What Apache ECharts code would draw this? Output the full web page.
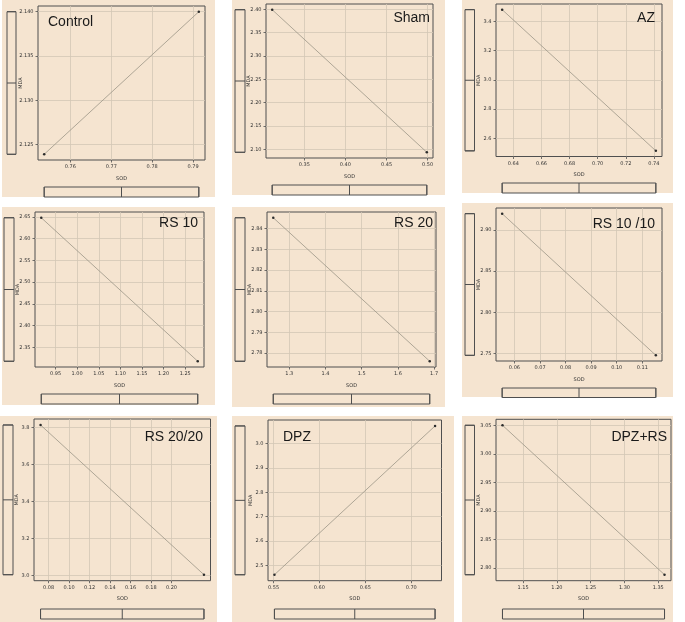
<!DOCTYPE html>
<html><head><meta charset="utf-8">
<script src="https://cdn.jsdelivr.net/npm/echarts@6/dist/echarts.min.js"></script>
<style>html,body{margin:0;padding:0;background:#fff}#c{width:685px;height:622px}</style>
</head><body><div id="c"></div>
<script>
// ---- data ----
const panelNames = ['Control', 'Sham', 'AZ', 'RS 10', 'RS 20', 'RS 10 /10', 'RS 20/20', 'DPZ', 'DPZ+RS'];
const sodValues = [
  [0.7536, 0.7914], [0.311, 0.499], [0.632, 0.7414],
  [0.917, 1.279], [1.256, 1.688], [0.0552, 0.1153],
  [0.0722, 0.2317], [0.551, 0.726], [1.1194, 1.3593]
];
const mdaValues = [
  [2.1239, 2.140], [2.399, 2.094], [3.48, 2.515],
  [2.648, 2.318], [2.8453, 2.776], [2.920, 2.7476],
  [3.814, 3.003], [2.462, 3.072], [3.05, 2.788]
];
const sodTickLabels = [
  ['0.76', '0.77', '0.78', '0.79'],
  ['0.35', '0.40', '0.45', '0.50'],
  ['0.64', '0.66', '0.68', '0.70', '0.72', '0.74'],
  ['0.95', '1.00', '1.05', '1.10', '1.15', '1.20', '1.25'],
  ['1.3', '1.4', '1.5', '1.6', '1.7'],
  ['0.06', '0.07', '0.08', '0.09', '0.10', '0.11'],
  ['0.08', '0.10', '0.12', '0.14', '0.16', '0.18', '0.20'],
  ['0.55', '0.60', '0.65', '0.70'],
  ['1.15', '1.20', '1.25', '1.30', '1.35']
];
const mdaTickLabels = [
  ['2.125', '2.130', '2.135', '2.140'],
  ['2.10', '2.15', '2.20', '2.25', '2.30', '2.35', '2.40'],
  ['2.6', '2.8', '3.0', '3.2', '3.4'],
  ['2.35', '2.40', '2.45', '2.50', '2.55', '2.60', '2.65'],
  ['2.78', '2.79', '2.80', '2.81', '2.82', '2.83', '2.84'],
  ['2.75', '2.80', '2.85', '2.90'],
  ['3.0', '3.2', '3.4', '3.6', '3.8'],
  ['2.5', '2.6', '2.7', '2.8', '2.9', '3.0'],
  ['2.80', '2.85', '2.90', '2.95', '3.00', '3.05']
];
const xAxisTitle = 'SOD';
const yAxisTitle = 'MDA';

// ---- layout (positions / sizes only) ----
const layout = [
  {bg: [2, 0, 213, 197],   main: [38, 6, 167, 154],    lbox: [7, 9],     bbox: [187, 10], lab: [48, 22.5, 'left']},
  {bg: [232, 0, 213, 195], main: [266, 4, 167, 154],   lbox: [235, 10],  bbox: [185, 10], lab: [430, 18.5, 'right']},
  {bg: [462, 0, 211, 193], main: [496, 4, 166, 152.5], lbox: [465, 9.5], bbox: [183, 10], lab: [655, 18.5, 'right']},
  {bg: [2, 207, 213, 198], main: [35, 212, 169, 155],  lbox: [4, 10],    bbox: [394, 10], lab: [198, 223.5, 'right']},
  {bg: [232, 207, 213, 200], main: [267, 212, 169, 155], lbox: [235, 10], bbox: [394, 10], lab: [433, 223.5, 'right']},
  {bg: [462, 203, 211, 194], main: [496, 208, 166, 153], lbox: [465, 9.5], bbox: [388, 9.5], lab: [655, 224.5, 'right']},
  {bg: [0, 416, 217, 206], main: [34, 419, 176.5, 161.7], lbox: [3, 10],  bbox: [609, 10], lab: [203, 437, 'right']},
  {bg: [232, 416, 222, 206], main: [268, 420, 173.5, 160.7], lbox: [235, 10], bbox: [609, 10], lab: [283, 437, 'left']},
  {bg: [462, 416, 211, 206], main: [496, 419.3, 175, 161.4], lbox: [465, 9.5], bbox: [609, 10], lab: [667, 437, 'right']}
];

const BEIGE = '#f5e4d0';
const BORDER = '#4f4f4f';
const GRIDLINE = '#d3c6b5';
const LINE = '#9c9686';
const TXT = '#333';

function paddedRange(arr) {
  const lo = Math.min(...arr), hi = Math.max(...arr);
  const pad = (hi - lo) * 0.04;
  return [lo - pad, hi + pad];
}
function decimals(s) { const i = s.indexOf('.'); return i < 0 ? 0 : s.length - i - 1; }

const grids = [], xAxes = [], yAxes = [], series = [], graphics = [];

for (let i = 0; i < panelNames.length; i++) {
  const L = layout[i];
  const xs = sodValues[i], ys = mdaValues[i];
  const xr = paddedRange(xs), yr = paddedRange(ys);
  const xTicks = sodTickLabels[i].map(parseFloat);
  const yTicks = mdaTickLabels[i].map(parseFloat);
  const xStep = +(xTicks[1] - xTicks[0]).toFixed(6);
  const yStep = +(yTicks[1] - yTicks[0]).toFixed(6);
  const xDec = decimals(sodTickLabels[i][0]);
  const yDec = decimals(mdaTickLabels[i][0]);
  const gMain = grids.length;

  // background panel
  graphics.push({type: 'rect', silent: true, z: -10,
    shape: {x: L.bg[0], y: L.bg[1], width: L.bg[2], height: L.bg[3]},
    style: {fill: BEIGE}});
  // panel label
  graphics.push({type: 'text', silent: true, z: 100,
    x: L.lab[0], y: L.lab[1],
    style: {text: panelNames[i], fill: '#1a1a1a', font: '14px "Liberation Sans", Arial, sans-serif',
      textAlign: L.lab[2], textVerticalAlign: 'middle'}});

  // main grid
  grids.push({left: L.main[0], top: L.main[1], width: L.main[2], height: L.main[3],
    show: true, borderColor: BORDER, borderWidth: 1, backgroundColor: 'transparent', containLabel: false});
  xAxes.push({type: 'value', gridIndex: gMain, min: xr[0], max: xr[1],
    minInterval: xStep, maxInterval: xStep,
    axisLine: {show: false},
    axisTick: {show: true, length: 2.5, customValues: xTicks, lineStyle: {color: BORDER, width: 0.8}},
    axisLabel: {customValues: xTicks, formatter: v => v.toFixed(xDec), fontSize: 5, color: TXT, margin: 4.5,
      fontFamily: 'DejaVu Sans'},
    splitLine: {show: true, lineStyle: {color: GRIDLINE, width: 0.8}},
    name: xAxisTitle, nameLocation: 'middle', nameGap: 16, nameMoveOverlap: false,
    nameTextStyle: {fontSize: 5, color: TXT, fontFamily: 'DejaVu Sans'}});
  yAxes.push({type: 'value', gridIndex: gMain, min: yr[0], max: yr[1],
    minInterval: yStep, maxInterval: yStep,
    axisLine: {show: false},
    axisTick: {show: true, length: 2.5, customValues: yTicks, lineStyle: {color: BORDER, width: 0.8}},
    axisLabel: {customValues: yTicks, formatter: v => v.toFixed(yDec), fontSize: 5, color: TXT, margin: 4.5,
      fontFamily: 'DejaVu Sans'},
    splitLine: {show: true, lineStyle: {color: GRIDLINE, width: 0.8}},
    name: yAxisTitle, nameLocation: 'middle', nameGap: 15, nameMoveOverlap: false,
    nameTextStyle: {fontSize: 5, color: TXT, fontFamily: 'DejaVu Sans'}});
  series.push({type: 'line', xAxisIndex: gMain, yAxisIndex: gMain,
    data: xs.map((x, k) => [x, ys[k]]),
    symbol: 'circle', symbolSize: 2.5, showSymbol: true,
    itemStyle: {color: '#2b2b2b'},
    lineStyle: {color: LINE, width: 0.8}, emphasis: {disabled: true}, silent: true});

  // left marginal boxplot (MDA)
  const gLeft = grids.length;
  grids.push({left: L.lbox[0], width: L.lbox[1], top: L.main[1], height: L.main[3]});
  xAxes.push({type: 'category', gridIndex: gLeft, data: [yAxisTitle], show: false});
  yAxes.push({type: 'value', gridIndex: gLeft, min: yr[0], max: yr[1], show: false});
  const yLo = Math.min(...ys), yHi = Math.max(...ys), yMed = (yLo + yHi) / 2;
  series.push({type: 'boxplot', xAxisIndex: gLeft, yAxisIndex: gLeft,
    data: [[yLo, yLo, yMed, yHi, yHi]], boxWidth: [L.lbox[1], L.lbox[1]],
    itemStyle: {color: 'rgba(0,0,0,0)', borderColor: BORDER, borderWidth: 1},
    emphasis: {disabled: true}, silent: true});

  // bottom marginal boxplot (SOD)
  const gBot = grids.length;
  grids.push({left: L.main[0], width: L.main[2], top: L.bbox[0], height: L.bbox[1]});
  xAxes.push({type: 'value', gridIndex: gBot, min: xr[0], max: xr[1], show: false});
  yAxes.push({type: 'category', gridIndex: gBot, data: [xAxisTitle], show: false});
  const xLo = Math.min(...xs), xHi = Math.max(...xs), xMed = (xLo + xHi) / 2;
  series.push({type: 'boxplot', xAxisIndex: gBot, yAxisIndex: gBot,
    data: [[xLo, xLo, xMed, xHi, xHi]], boxWidth: [L.bbox[1], L.bbox[1]],
    itemStyle: {color: 'rgba(0,0,0,0)', borderColor: BORDER, borderWidth: 1},
    emphasis: {disabled: true}, silent: true});
}

const chart = echarts.init(document.getElementById('c'), null, {renderer: 'canvas'});
chart.setOption({
  animation: false,
  backgroundColor: '#ffffff',
  graphic: {elements: graphics},
  grid: grids,
  xAxis: xAxes,
  yAxis: yAxes,
  series: series
});
</script>
</body></html>
